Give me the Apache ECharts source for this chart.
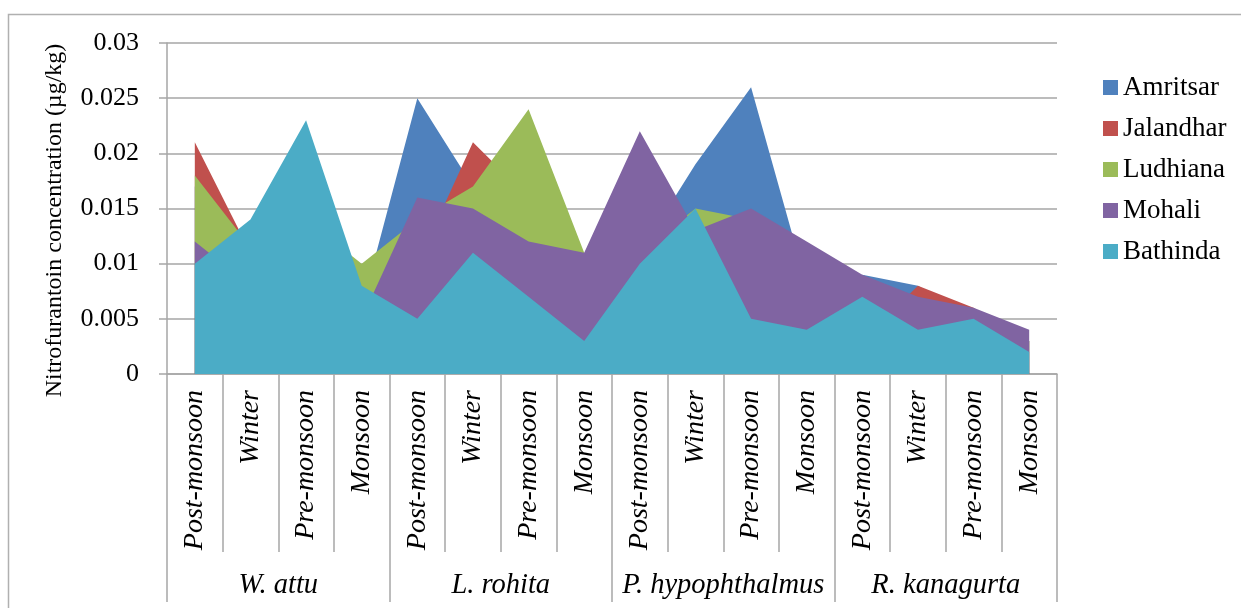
<!DOCTYPE html>
<html>
<head>
<meta charset="utf-8">
<script src="https://cdn.jsdelivr.net/npm/echarts@6/dist/echarts.min.js"></script>
<style>
html,body{margin:0;padding:0;background:#fff;}
#chart{width:1241px;height:608px;}
</style>
</head>
<body>
<div id="chart"></div>
<script>
const seasons = ["Post-monsoon","Winter","Pre-monsoon","Monsoon","Post-monsoon","Winter","Pre-monsoon","Monsoon","Post-monsoon","Winter","Pre-monsoon","Monsoon","Post-monsoon","Winter","Pre-monsoon","Monsoon"];
const species = ["W. attu","L. rohita","P. hypophthalmus","R. kanagurta"];
const seriesNames = ["Amritsar","Jalandhar","Ludhiana","Mohali","Bathinda"];
const amritsar  = [0.017,0.012,0.015,0.006, 0.025,0.017,0.012,0.008, 0.011,0.019,0.026,0.008, 0.009,0.008,0.005,0.003];
const jalandhar = [0.021,0.011,0.013,0.006, 0.010,0.021,0.016,0.009, 0.012,0.013,0.012,0.008, 0.003,0.008,0.006,0.003];
const ludhiana  = [0.018,0.0115,0.014,0.010, 0.014,0.017,0.024,0.011, 0.011,0.015,0.014,0.010, 0.008,0.006,0.005,0.003];
const mohali    = [0.012,0.008,0.010,0.005, 0.016,0.015,0.012,0.011, 0.022,0.013,0.015,0.012, 0.009,0.007,0.006,0.004];
const bathinda  = [0.010,0.014,0.023,0.008, 0.005,0.011,0.007,0.003, 0.010,0.015,0.005,0.004, 0.007,0.004,0.005,0.002];
const yTicks = ["0","0.005","0.01","0.015","0.02","0.025","0.03"];
const colors = ["#4F81BD","#C0504D","#9BBB59","#8064A2","#4BACC6"];
const allData = [amritsar, jalandhar, ludhiana, mohali, bathinda];

const FONT = '"Liberation Serif","Times New Roman",serif';
const GRID_COLOR = '#a6a6a6';

const chart = echarts.init(document.getElementById('chart'), null, {renderer:'canvas'});
chart.setOption({
  animation: false,
  backgroundColor: '#fff',
  color: colors,
  graphic: [{
    type: 'rect',
    shape: {x: 8.5, y: 14.5, width: 1400, height: 800},
    style: {fill: 'none', stroke: '#b0b0b0', lineWidth: 1.5},
    silent: true, z: -10
  }],
  grid: {left: 167, right: 184, top: 43, bottom: 234, containLabel: false},
  legend: {
    orient: 'vertical',
    left: 1098, top: 69,
    itemWidth: 15, itemHeight: 15, itemGap: 14,
    icon: 'rect',
    textStyle: {fontFamily: FONT, fontSize: 27, color: '#000', lineHeight: 27},
    data: seriesNames
  },
  xAxis: [{
    type: 'category',
    data: seasons,
    boundaryGap: true,
    position: 'bottom',
    axisLine: {show: true, lineStyle: {color: GRID_COLOR, width: 1.5}},
    axisTick: {show: true, interval: 0, length: 178, lineStyle: {color: GRID_COLOR, width: 1.5}},
    axisLabel: {interval: 0, rotate: 90, margin: 16, fontFamily: FONT, fontStyle: 'italic', fontSize: 28, color: '#000'},
    splitLine: {show: false}
  },{
    type: 'category',
    data: species,
    boundaryGap: true,
    position: 'bottom',
    axisLine: {show: false},
    axisTick: {show: true, interval: 0, length: 228, lineStyle: {color: GRID_COLOR, width: 1.5}},
    axisLabel: {interval: 0, margin: 197, fontFamily: FONT, fontStyle: 'italic', fontSize: 28.5, color: '#000'},
    splitLine: {show: false}
  }],
  yAxis: {
    type: 'value',
    min: 0, max: 0.03, interval: 0.005,
    name: 'Nitrofurantoin concentration (µg/kg)',
    nameLocation: 'middle',
    nameGap: 100,
    nameRotate: 90,
    nameTextStyle: {fontFamily: FONT, fontSize: 24, color: '#000', padding: [0, 24, 0, 0]},
    axisLine: {show: true, lineStyle: {color: GRID_COLOR, width: 1.5}},
    axisTick: {show: true, length: 8, lineStyle: {color: GRID_COLOR, width: 1.5}},
    axisLabel: {margin: 28, fontFamily: FONT, fontSize: 26, color: '#000',
      formatter: function (v, i) { return yTicks[i] !== undefined ? yTicks[i] : String(v); }},
    splitLine: {show: true, lineStyle: {color: GRID_COLOR, width: 1.5}}
  },
  series: seriesNames.map(function (name, k) {
    return {
      name: name,
      type: 'line',
      xAxisIndex: 0,
      data: allData[k],
      showSymbol: false,
      symbol: 'none',
      lineStyle: {width: 0},
      areaStyle: {opacity: 1, color: colors[k]},
      itemStyle: {color: colors[k]}
    };
  })
});
</script>
</body>
</html>
